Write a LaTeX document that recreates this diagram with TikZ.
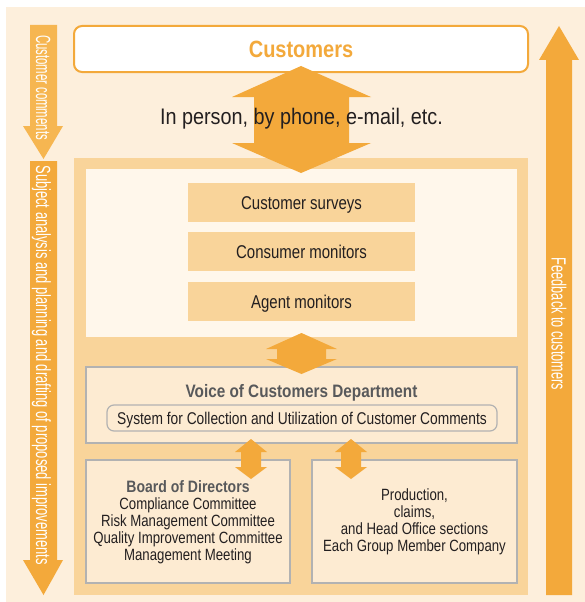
\documentclass[tikz,border=0pt]{standalone}
\usepackage{fontspec}
\setmainfont{Liberation Sans}
\newfontfamily\cnd[FakeStretch=0.81]{Liberation Sans}
\newfontfamily\cndb[FakeStretch=0.85]{Liberation Sans}
\newfontfamily\cndw[FakeStretch=0.88]{Liberation Sans}
\definecolor{bg}{HTML}{FDEFDC}
\definecolor{orng}{HTML}{F3A93B}
\definecolor{lorng}{HTML}{F6B651}
\definecolor{frame}{HTML}{F9D49A}
\definecolor{panel}{HTML}{FFF7EB}
\definecolor{boxfill}{HTML}{FDEBD2}
\definecolor{gry}{HTML}{B2B2B2}
\definecolor{title}{HTML}{58595B}
\definecolor{ink}{HTML}{231F20}
\begin{document}
\begin{tikzpicture}[x=1pt,y=-1pt,
  txt/.style={font=\cnd\fontsize{16.3}{17}\selectfont, text=ink, align=center, inner sep=0pt},
  survey/.style={fill=frame, minimum width=227pt, minimum height=39pt, inner sep=0pt, text height=13.2pt, text depth=0pt, font=\cnd\fontsize{18.5}{20}\selectfont, text=ink},
  grbox/.style={draw=gry, line width=1.5pt, fill=boxfill, inner sep=0pt},
  vlabel/.style={rotate=-90, anchor=base, text=white, inner sep=0pt, font=\fontsize{20.5}{22}\selectfont}
]
\useasboundingbox (0,0) rectangle (585,602);
\fill[white] (0,0) rectangle (585,602);
\fill[bg] (6,7) rectangle (585,602);

% side arrows
\fill[lorng] (30,25) -- (57,25) -- (57,126) -- (63,126) -- (43.5,159) -- (23,126) -- (30,126) -- cycle;
\fill[orng] (30,161) -- (57,161) -- (57,560) -- (63,560) -- (43.5,595) -- (23,560) -- (30,560) -- cycle;
\fill[orng] (546,595) -- (572,595) -- (572,60) -- (579,60) -- (559,26) -- (539,60) -- (546,60) -- cycle;

\node[vlabel] (cc) at (36.2,87.5) {\scalebox{0.555}[1]{Customer comments}};
\node[vlabel] (sa) at (36.2,365) {\scalebox{0.63}[1]{Subject analysis and planning and drafting of proposed improvements}};
\node[vlabel] (fb) at (551.7,324) {\scalebox{0.62}[1]{Feedback to customers}};

% customers
\node[draw=orng, line width=2pt, fill=white, rounded corners=8pt, minimum width=454pt, minimum height=46pt, inner sep=0pt,
  text height=16.8pt, text depth=0pt,
  font=\cndb\bfseries\fontsize{23.5}{26}\selectfont, text=orng] (cust) at (301,49) {Customers};

% frame and panel
\fill[frame] (74,158) rectangle (528,595);
\fill[panel] (86,169) rectangle (517,337);

\node[survey] (s1) at (301.5,202.5) {Customer surveys};
\node[survey] (s2) at (301.5,251.5) {Consumer monitors};
\node[survey] (s3) at (301.5,301.5) {Agent monitors};

% VOC
\node[grbox, minimum width=431pt, minimum height=76pt] (voc) at (301.5,405) {};
\node[font=\cndb\bfseries\fontsize{18}{20}\selectfont, text=title, inner sep=0pt, anchor=base] (voct) at (301.5,397) {Voice of Customers Department};
\node[draw=gry, line width=1.2pt, fill=boxfill, rounded corners=7pt, minimum width=390pt, minimum height=26pt, inner sep=0pt,
  text height=12.2pt, text depth=0pt,
  font=\cnd\fontsize{17}{19}\selectfont, text=ink] (sys) at (302,418) {System for Collection and Utilization of Customer Comments};

\node[grbox, minimum width=204pt, minimum height=123pt] (bod) at (188,521.5) {};
\node[grbox, minimum width=205pt, minimum height=123pt] (prd) at (414.5,521.5) {};

\node[txt] (bodt) at (188,522) {{\cndb\bfseries\fontsize{16.5}{17}\selectfont\color{title}Board of Directors}\\Compliance Committee\\Risk Management Committee\\Quality Improvement Committee\\Management Meeting};
\node[txt] (prdt) at (414.5,521.5) {Production,\\claims,\\and Head Office sections\\Each Group Member Company};

% big double arrow
\fill[orng] (301,66) -- (371,97) -- (349,97) -- (349,143) -- (371,143) -- (301,173) -- (232,143) -- (254,143) -- (254,97) -- (232,97) -- cycle;
\node[font=\cndw\fontsize{22.5}{24}\selectfont, text=ink, inner sep=0pt, anchor=base] (chan) at (301.5,124) {In person, by phone, e-mail, etc.};

% middle double arrow
\fill[orng] (301.5,333) -- (337,349) -- (326,349) -- (326,359) -- (337,359) -- (301.5,374) -- (266,359) -- (277,359) -- (277,349) -- (266,349) -- cycle;

% small double arrows
\foreach \cx in {251,351}{
  \fill[orng] (\cx,439) -- (\cx+16,452) -- (\cx+10,452) -- (\cx+10,467) -- (\cx+16,467) -- (\cx,479) -- (\cx-16,467) -- (\cx-10,467) -- (\cx-10,452) -- (\cx-16,452) -- cycle;
}
\end{tikzpicture}
\end{document}
